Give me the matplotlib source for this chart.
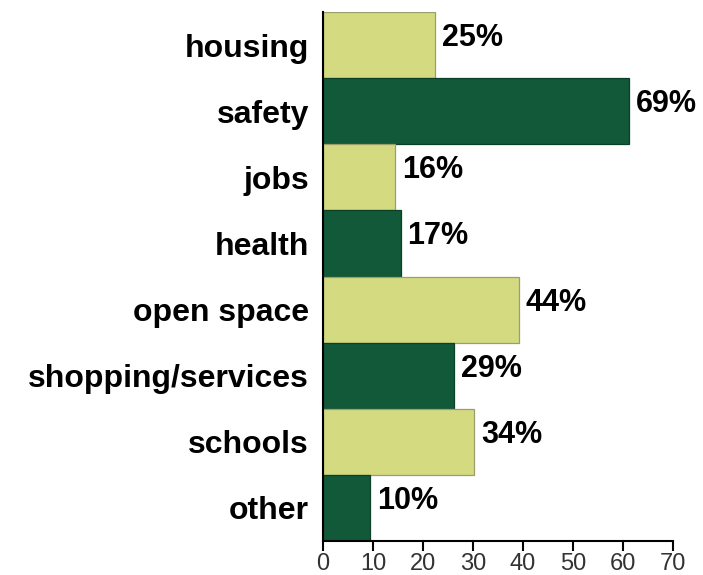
import matplotlib
matplotlib.use("Agg")
import matplotlib.pyplot as plt

categories = ["housing", "safety", "jobs", "health", "open space",
              "shopping/services", "schools", "other"]
bar_values = [22.4, 61.2, 14.4, 15.5, 39.2, 26.2, 30.2, 9.4]
pct_labels = ["25%", "69%", "16%", "17%", "44%", "29%", "34%", "10%"]
xticks = [0, 10, 20, 30, 40, 50, 60, 70]

light = "#D4DA80"
dark = "#12593A"
colors = [light if i % 2 == 0 else dark for i in range(len(categories))]
edges = ["#9A9E6A" if i % 2 == 0 else "#0C3F28" for i in range(len(categories))]

plt.rcParams["font.family"] = ["Liberation Sans", "DejaVu Sans"]

fig = plt.figure(figsize=(7.03, 5.75), dpi=100)
ax = fig.add_axes([323 / 703, 1 - 541 / 575, 350 / 703, 529 / 575])

y = list(range(len(categories)))
ax.barh(y, bar_values, height=1.0, color=colors, edgecolor=edges, linewidth=0.9)

for yi, v, lab in zip(y, bar_values, pct_labels):
    ax.annotate(lab, xy=(v, yi), xytext=(5, 5), textcoords="offset points",
                ha="left", va="center", fontsize=22, fontweight="bold", color="black")

ax.set_xlim(0, 70)
ax.set_ylim(len(categories) - 0.5, -0.5)
ax.set_yticks(y)
ax.set_yticklabels(categories, fontsize=23, fontweight="bold")
ax.tick_params(axis="y", length=0, pad=10)
ax.set_xticks(xticks)
ax.set_xticklabels([str(t) for t in xticks], fontsize=17, color="#333333")
ax.tick_params(axis="x", length=7, width=1.5, color="black", pad=2)

for s in ["top", "right"]:
    ax.spines[s].set_visible(False)
for s in ["left", "bottom"]:
    ax.spines[s].set_linewidth(1.5)
    ax.spines[s].set_color("black")

fig.savefig("out.png", dpi=100)
